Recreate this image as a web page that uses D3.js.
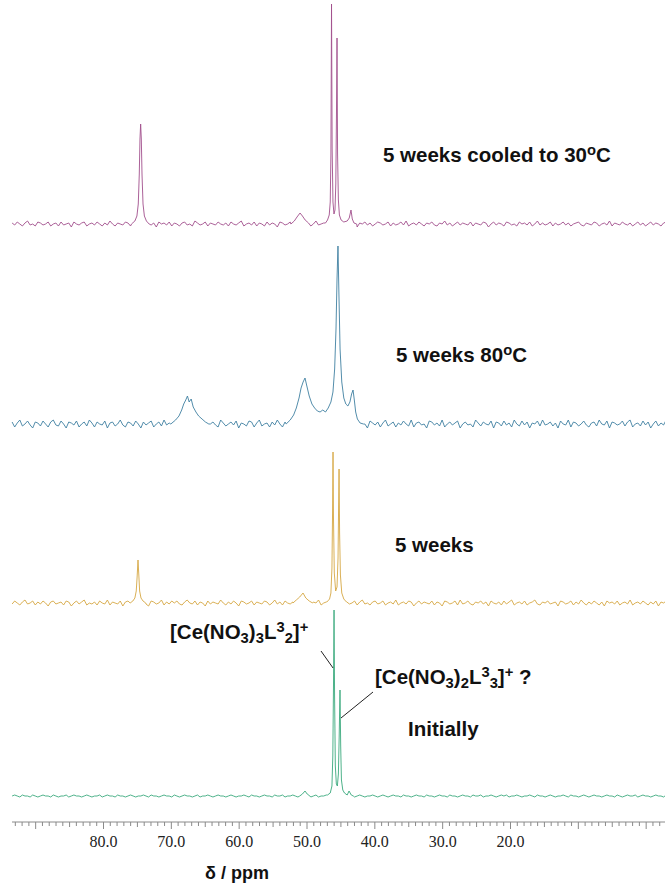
<!DOCTYPE html>
<html>
<head>
<meta charset="utf-8">
<script src="https://cdn.jsdelivr.net/npm/d3@7"></script>
<style>
  html, body { margin: 0; padding: 0; background: #fff; }
  svg { display: block; }
</style>
</head>
<body>
<svg id="chart" width="665" height="886"></svg>
<script>
// ---- Data: stacked NMR spectra, chemical shift in ppm, intensity in arbitrary units ----

// labelled axis ticks (ppm)
const tickLabels = [80, 70, 60, 50, 40, 30, 20];

// baseline noise traces sampled on a regular ppm grid
const noiseStart = 93.4;
const noiseStep = 0.3796;

const noisePink = [
  1,-1,2,0,-2,1,3,-1,0,-2,2,1,-1,0,2,-2,
  0,1,-2,2,-1,0,1,-3,2,0,-1,1,2,-2,0,1,
  -1,2,0,-2,1,-1,3,0,-2,1,0,-1,2,1,-2,0,
  2,-1,1,-2,0,2,-1,1,-3,2,0,1,-1,2,-2,1,
  0,-2,1,2,-1,0,-2,3,1,-1,0,2,-2,1,0,-1,
  2,0,-1,1,-2,2,0,-1,1,3,-2,0,1,-1,2,-2,
  1,0,-2,2,-1,1,0,-3,2,1,-1,0,2,-1,1,-2,
  0,2,-1,1,-2,0,3,-1,0,1,-2,2,-1,0,1,-1,
  2,-2,0,1,-1,2,-3,1,0,2,-1,1,-2,0,2,1,
  -1,0,2,-2,1,-1,0,2,-1,3,-2,0,1,-1,2,0,
  -2,1,0,2,-1,-2,1,0,3,-1,1,-2,0,2,-1,1,
  0,-1,2,-2,1,0,-1,2,1,-3,0,2,-1,1,0,-2,
  2,1,-1,0,-2,2,0,1,-1,2,-2,0,3,-1,1,-1,
  0,2,-2,1,-1,0,2,-1,1,-2,0,1,2,-1,-2,1,
  0,-1,2,1,-2,0,1,-1,3,-2,1,0,-1,2,0,-1,
  1,-2,0,2,-1,1,-2,0,2,-1,1,0,-2,1,2,0
];
const noiseBlue = [
  2,-3,1,4,-2,0,3,-1,-4,2,1,-2,3,0,-3,2,
  4,-1,-2,3,0,-4,2,1,-1,3,-3,0,2,-2,4,1,
  -3,2,0,-1,3,-4,1,2,-2,0,4,-1,-3,2,1,-2,
  3,0,-4,2,-1,1,3,-3,0,2,-2,4,-1,1,-4,2,
  0,3,-2,1,-3,4,0,-1,2,-4,1,3,-2,0,2,-1,
  -3,4,1,-2,0,2,-1,3,-4,1,0,-2,3,2,-3,1,
  4,-2,0,1,-3,2,-1,4,0,-3,2,1,-2,3,-1,0,
  -4,2,3,-1,0,1,-3,2,4,-2,0,-1,3,-4,1,2,
  -2,0,3,-3,1,4,-1,-2,2,0,-4,3,1,-1,2,-3,
  1,4,-2,0,2,-3,1,-1,3,0,-2,4,-3,1,2,-1,
  0,-4,3,2,-1,1,-2,4,-3,0,2,-1,1,3,-4,0,
  2,-1,0,-3,4,1,-2,2,0,-1,3,-4,2,1,-2,3,
  -1,1,-3,4,0,-2,3,-1,2,-4,1,0,3,-2,4,-1,
  0,2,-2,1,-4,3,0,-1,4,-3,2,1,-2,0,3,-1,
  -3,1,2,-2,4,0,-1,3,-4,2,1,-1,0,3,-2,2,
  4,-3,0,1,-2,3,-1,2,-4,0,3,-2,1,-1,4,0
];
const noiseGold = [
  -1,2,0,-2,1,3,-1,0,2,-2,1,-1,2,0,-3,1,
  2,-1,0,1,-2,2,1,-3,0,2,-1,1,3,-2,0,-1,
  1,-2,2,0,-1,3,-2,1,0,-1,2,-3,1,2,-1,0,
  -2,1,0,2,-1,-3,2,1,-1,0,3,-2,1,-1,2,0,
  2,-1,-2,1,3,0,-1,2,-2,1,0,-3,2,-1,1,0,
  -1,3,0,-2,1,-1,2,0,-3,2,1,-1,0,2,-2,1,
  0,-1,2,1,-2,0,3,-1,1,-2,2,0,-1,1,-3,2,
  1,0,-2,2,-1,1,0,3,-2,0,1,-1,2,-2,0,1,
  -3,2,1,-1,0,2,-2,1,3,-1,0,-2,1,2,-1,0,
  2,-2,0,1,-1,3,-2,0,1,-1,2,1,-3,0,2,-1,
  1,0,-1,2,-2,1,0,-3,2,1,-1,0,2,-2,3,-1,
  0,2,-1,-2,1,0,2,-1,1,-3,2,0,-1,1,-2,2,
  -1,1,3,-2,0,1,-1,2,-2,0,1,3,-1,-2,1,0,
  2,-1,0,1,-3,2,1,-1,0,2,-2,1,-1,3,0,-2,
  1,-1,2,0,-2,1,-3,2,0,1,-1,2,-2,0,1,-1,
  3,-2,0,1,-1,2,0,-2,1,-1,2,-3,1,0,2,-1
];
const noiseGreen = [
  0,1,0,-1,1,0,0,-1,1,0,-1,0,1,0,0,-1,
  1,0,-1,0,0,1,-1,0,1,0,0,-1,0,1,0,-1,
  0,0,1,-1,0,1,0,0,-1,1,0,0,-1,0,1,0,
  -1,0,0,1,0,-1,1,0,0,-1,0,1,0,0,-1,1,
  0,-1,0,1,0,0,-1,0,1,-1,0,0,1,0,-1,0,
  1,0,0,-1,0,1,0,-1,0,0,1,0,-1,1,0,0,
  -1,0,1,0,0,-1,1,0,0,1,-1,0,0,1,0,-1,
  0,1,0,0,-1,0,1,-1,0,0,1,0,-1,0,0,1,
  0,-1,1,0,0,-1,0,1,0,-1,0,0,1,0,-1,0,
  1,0,-1,0,1,0,0,-1,1,0,0,-1,0,1,0,0,
  -1,1,0,0,-1,0,1,0,0,-1,1,0,0,-1,0,1,
  0,0,-1,1,0,0,1,-1,0,0,1,0,-1,0,1,0,
  1,-1,0,0,1,0,-1,0,0,1,0,-1,1,0,0,-1,
  0,1,0,-1,0,0,1,0,-1,1,0,0,-1,0,1,0,
  -1,0,1,0,0,-1,0,1,0,0,-1,1,0,-1,0,1,
  0,0,1,-1,0,1,0,0,-1,0,1,0,0,-1,1,0
];

// resolved signals: [ppm, intensity] points across each peak
const peaksPink = [
  [[75.8,0],[75.3,3],[75.0,8],[74.8,20],[74.65,50],[74.55,85],[74.45,100],[74.35,85],[74.25,50],
   [74.1,20],[73.9,8],[73.6,3],[73.2,0]],
  [[52.3,0],[51.8,3],[51.4,7],[50.95,11],[50.6,8],[50.2,4],[49.7,1]],
  [[47.2,1],[46.9,4],[46.65,9],[46.5,22],[46.4,70],[46.31,220],[46.22,75],[46.1,22],[45.95,10],[45.8,14],
   [45.68,40],[45.58,110],[45.5,186],[45.42,70],[45.3,24],[45.15,9],[44.9,4],[44.5,2],[44.0,3],[43.7,6],
   [43.44,14],[43.25,5],[43.0,1],[42.6,0]]
];
const peaksBlue = [
  [[70.0,0],[69.3,4],[68.8,8],[68.4,14],[68.1,20],[67.8,24],[67.55,28],[67.3,22],[67.0,25],[66.7,17],
   [66.3,12],[65.9,8],[65.4,5],[64.9,2],[64.4,0]],
  [[53.0,0],[52.4,4],[51.9,9],[51.5,16],[51.1,26],[50.8,36],[50.5,42],[50.22,46],[49.95,38],[49.6,28],
   [49.2,20],[48.8,16],[48.4,13],[48.0,12],[47.6,14],[47.2,12],[46.8,16],[46.4,22],[46.1,32],[45.85,55],
   [45.65,95],[45.5,145],[45.36,178],[45.22,130],[45.05,75],[44.8,42],[44.5,26],[44.2,20],[43.9,18],
   [43.6,22],[43.35,30],[43.14,34],[42.95,24],[42.75,12],[42.5,5],[42.1,1],[41.6,0]]
];
const peaksGold = [
  [[76.0,0],[75.6,2],[75.3,5],[75.1,12],[74.97,26],[74.84,43],[74.72,28],[74.6,12],[74.4,5],[74.1,2],[73.7,0]],
  [[52.0,0],[51.5,3],[51.0,6],[50.51,10],[50.1,5],[49.6,2],[49.1,0]],
  [[47.0,1],[46.6,4],[46.4,10],[46.25,35],[46.16,90],[46.09,151],[46.02,85],[45.9,30],[45.7,12],[45.5,16],
   [45.35,45],[45.27,95],[45.2,134],[45.12,70],[45.0,28],[44.8,10],[44.5,4],[44.1,1]]
];
const peaksGreen = [
  [[51.0,0],[50.6,2],[50.22,5],[49.9,2],[49.5,0]],
  [[46.9,1],[46.5,3],[46.25,10],[46.12,40],[46.02,110],[45.94,186],[45.86,100],[45.75,30],[45.6,12],
   [45.45,10],[45.3,22],[45.18,60],[45.06,106],[44.96,50],[44.85,16],[44.65,6],[44.4,3],[44.0,1],
   [43.73,5],[43.4,1],[43.1,0]]
];

// ---- Layout ----
const svg = d3.select("#chart");
const W = 665;
const x = d3.scaleLinear().domain([80, 20]).range([103, 510]);
const y = d3.scaleLinear().domain([0, 250]).range([0, -250]);

const sans = "'Liberation Sans', Arial, Helvetica, sans-serif";
const serif = "'Liberation Serif', 'Times New Roman', serif";

function buildTrace(noise, peaks) {
  const grid = noise.map((v, i) => [noiseStart - i * noiseStep, v]);
  const spans = peaks.map(p => d3.extent(p, d => d[0]));
  const base = grid.filter(([ppm]) => !spans.some(([lo, hi]) => ppm >= lo && ppm <= hi));
  return base.concat(...peaks).sort((a, b) => b[0] - a[0]);
}

const spectra = [
  { name: "cooled", noise: noisePink,  peaks: peaksPink,  color: "#a24f8c", base: 224 },
  { name: "80C",    noise: noiseBlue,  peaks: peaksBlue,  color: "#3f80a2", base: 424 },
  { name: "5wk",    noise: noiseGold,  peaks: peaksGold,  color: "#d6a743", base: 603 },
  { name: "init",   noise: noiseGreen, peaks: peaksGreen, color: "#3aa97d", base: 796 }
];

const line = d3.line().x(d => x(d[0])).y(d => y(d[1]));

spectra.forEach(s => {
  svg.append("g")
    .attr("transform", `translate(0,${s.base})`)
    .append("path")
    .datum(buildTrace(s.noise, s.peaks))
    .attr("d", line)
    .attr("fill", "none")
    .attr("stroke", s.color)
    .attr("stroke-width", 0.9)
    .attr("stroke-linejoin", "round");
});

// ---- ppm axis with minor ticks ----
const axisY = 822;
const axis = d3.axisBottom(x)
  .tickValues(d3.range(-2, 94, 1))
  .tickSize(4)
  .tickFormat(d => (tickLabels.includes(d) ? d3.format(".1f")(d) : ""));
const gAxis = svg.append("g").attr("transform", `translate(0,${axisY})`).call(axis);
gAxis.select(".domain").attr("d", `M12,0H${W}`).attr("stroke", "#8a8a8a");
gAxis.selectAll(".tick line")
  .attr("stroke", "#8a8a8a")
  .attr("y2", d => (d % 10 === 0 ? 7 : d % 5 === 0 ? 5 : 4));
gAxis.selectAll(".tick text")
  .attr("y", 14)
  .attr("fill", "#222")
  .style("font-family", serif)
  .style("font-size", "16px");

svg.append("text")
  .attr("x", 237).attr("y", 879)
  .attr("text-anchor", "middle")
  .style("font-family", sans).style("font-weight", "bold").style("font-size", "18px")
  .attr("fill", "#111")
  .text("δ / ppm");

// ---- rich labels with super/subscripts ----
function richText(xp, yp, size, parts) {
  const t = svg.append("text")
    .attr("x", xp).attr("y", yp)
    .style("font-family", sans).style("font-weight", "bold").style("font-size", size + "px")
    .attr("fill", "#111");
  let cur = 0;
  parts.forEach(p => {
    const [txt, mode] = Array.isArray(p) ? p : [p, null];
    const target = mode === "sup" ? -0.36 * size : mode === "sub" ? 0.2 * size : 0;
    t.append("tspan")
      .attr("dy", target - cur)
      .style("font-size", (mode ? 0.72 * size : size) + "px")
      .text(txt);
    cur = target;
  });
  return t;
}

const F = 20.5;
richText(383, 162, F, ["5 weeks cooled to 30", ["o", "sup"], "C"]);
richText(396, 362, F, ["5 weeks  80", ["o", "sup"], "C"]);
richText(395, 552, F, ["5 weeks"]);
richText(170, 639, F, ["[Ce(NO", ["3", "sub"], ")", ["3", "sub"], "L", ["3", "sup"], ["2", "sub"], "]", ["+", "sup"]]);
richText(375, 684, F, ["[Ce(NO", ["3", "sub"], ")", ["2", "sub"], "L", ["3", "sup"], ["3", "sub"], "]", ["+", "sup"], " ?"]);
richText(408, 736, F, ["Initially"]);

// leader lines from labels to the two initial signals
const green = spectra[3];
svg.append("line")
  .attr("x1", 321).attr("y1", 651)
  .attr("x2", x(45.94) - 1).attr("y2", green.base + y(128))
  .attr("stroke", "#222").attr("stroke-width", 1);
svg.append("line")
  .attr("x1", 373).attr("y1", 692)
  .attr("x2", x(45.06) + 1).attr("y2", green.base + y(78))
  .attr("stroke", "#222").attr("stroke-width", 1);
</script>
</body>
</html>
